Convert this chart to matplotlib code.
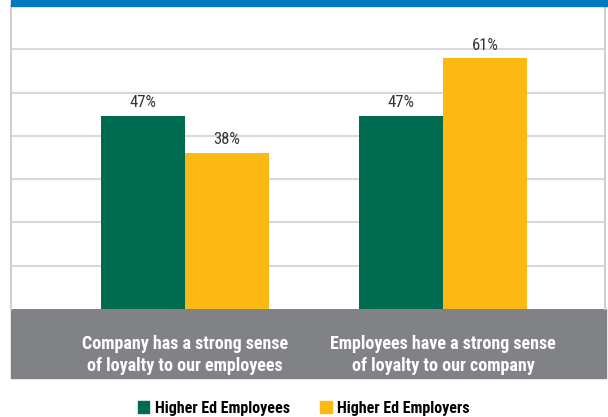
import matplotlib.pyplot as plt
import matplotlib.patches as mpatches
import numpy as np

# data
categories = ['Company has a strong sense\nof loyalty to our employees',
              'Employees have a strong sense\nof loyalty to our company']
series_names = ['Higher Ed Employees', 'Higher Ed Employers']
employees = [47, 47]
employers = [38, 61]

GREEN = '#006b4f'
YELLOW = '#fdb913'
BLUE = '#0079c1'
GREY_BAND = '#818286'
GRID = '#d9d9d9'

plt.rcParams['font.family'] = ['Roboto Condensed', 'DejaVu Sans']

fig = plt.figure(figsize=(6.08, 4.17), dpi=100)
W, H = 608, 417

# axes placed in pixel terms
ax = fig.add_axes((11 / W, (H - 309) / H, 594 / W, 303 / H))

x = np.arange(len(categories))
bw = 0.326
ax.bar(x - bw / 2, employees, bw, color=GREEN, zorder=3)
ax.bar(x + bw / 2, employers, bw, color=YELLOW, zorder=3)

ymax = 73.7
ax.set_ylim(0, ymax)
ax.set_xlim(-0.674, 1.628)
ax.set_yticks(np.linspace(0, ymax, 8)[1:-1])
ax.yaxis.grid(True, color=GRID, linewidth=1.5, zorder=0)
ax.tick_params(left=False, bottom=False, labelleft=False, labelbottom=False)
for s in ['top', 'bottom']:
    ax.spines[s].set_visible(False)
for s in ['left', 'right']:
    ax.spines[s].set_color('#d0d0d0')
    ax.spines[s].set_linewidth(1.5)

# value labels
for xi, v in zip(x - bw / 2, employees):
    ax.annotate(f'{v}%', (xi, v), xytext=(0, 4), textcoords='offset points',
                ha='center', va='bottom', fontsize=12, color='#333333')
for xi, v in zip(x + bw / 2, employers):
    ax.annotate(f'{v}%', (xi, v), xytext=(0, 4), textcoords='offset points',
                ha='center', va='bottom', fontsize=12, color='#333333')

# blue strip on top
fig.patches.append(mpatches.Rectangle((11 / W, (H - 6) / H), 597 / W, 6 / H,
                                      color=BLUE, transform=fig.transFigure, figure=fig))
# grey band with category labels
fig.patches.append(mpatches.Rectangle((11 / W, (H - 378) / H), 595 / W, 69 / H,
                                      color=GREY_BAND, transform=fig.transFigure,
                                      figure=fig, zorder=-1))
for xi, cat in zip(x, categories):
    ax.annotate(cat, (xi, 0), xytext=(0, -46), textcoords='offset pixels',
                ha='center', va='center', fontsize=13, fontweight='bold',
                color='white', linespacing=1.3, annotation_clip=False)

# legend
handles = [mpatches.Patch(color=GREEN, label=series_names[0]),
           mpatches.Patch(color=YELLOW, label=series_names[1])]
fig.legend(handles=handles, loc='center', bbox_to_anchor=(304 / W, (H - 408) / H),
           ncol=2, frameon=False, handlelength=0.7, handleheight=0.7,
           handletextpad=0.35, columnspacing=1.9,
           prop={'weight': 'bold', 'size': 11.5})

fig.savefig('out.png', dpi=100)
